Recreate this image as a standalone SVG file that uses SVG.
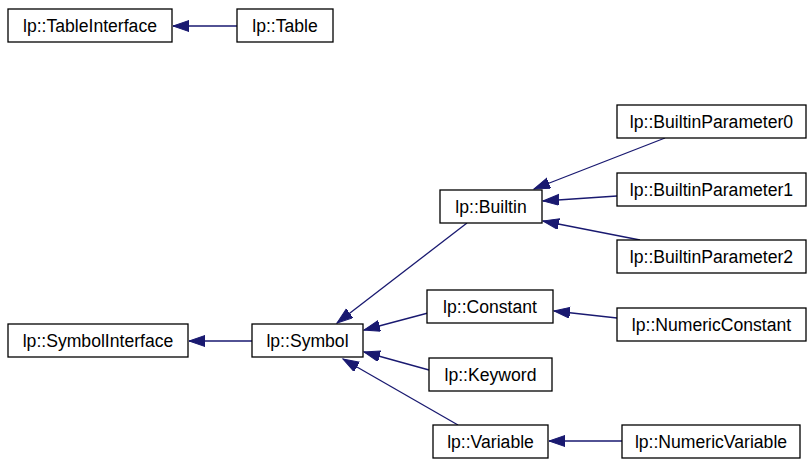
<svg xmlns="http://www.w3.org/2000/svg" width="807" height="460" viewBox="0 0 807 460">
  <style>
    .box { fill: #ffffff; stroke: #000000; stroke-width: 1.3; }
    .lbl { font-family: "Liberation Sans", Arial, sans-serif; font-size: 17.6px; fill: #000000; text-anchor: middle; dominant-baseline: central; }
    .edge { fill: none; stroke: #191970; stroke-width: 1.3; marker-end: url(#arrow); }
  </style>
  <defs>
    <marker id="arrow" markerUnits="userSpaceOnUse" markerWidth="18" markerHeight="12" refX="16" refY="5.5" orient="auto">
      <path d="M0,0 L16,5.5 L0,11 Z" fill="#191970" stroke="#191970" stroke-width="1"/>
    </marker>
  </defs>
  <rect width="807" height="460" fill="#ffffff"/>

  <g id="connectors">
    <path class="edge" d="M237,26 L173,26"/>
    <path class="edge" d="M252,341 L189,341"/>
    <path class="edge" d="M467,223 L337,323"/>
    <path class="edge" d="M428,313 L364,330"/>
    <path class="edge" d="M429,370 L364,352"/>
    <path class="edge" d="M458,425 L343,359"/>
    <path class="edge" d="M665,138 L534,189"/>
    <path class="edge" d="M617,196 L543,201"/>
    <path class="edge" d="M640,240 L543,221"/>
    <path class="edge" d="M617,318 L554,311"/>
    <path class="edge" d="M622,441 L549,441"/>
  </g>

  <g id="TableInterface"><rect class="box" x="8" y="9" width="164" height="33"/><text class="lbl" x="90" y="25.5">lp::TableInterface</text></g>
  <g id="Table"><rect class="box" x="237" y="9" width="96" height="33"/><text class="lbl" x="285" y="25.5">lp::Table</text></g>
  <g id="SymbolInterface"><rect class="box" x="8" y="324" width="180" height="33"/><text class="lbl" x="98" y="340.5">lp::SymbolInterface</text></g>
  <g id="Symbol"><rect class="box" x="252" y="324" width="111" height="33"/><text class="lbl" x="307.5" y="340.5">lp::Symbol</text></g>
  <g id="Builtin"><rect class="box" x="440" y="190" width="102" height="33"/><text class="lbl" x="491" y="206.5">lp::Builtin</text></g>
  <g id="Constant"><rect class="box" x="427" y="290" width="126" height="33"/><text class="lbl" x="490" y="306.5">lp::Constant</text></g>
  <g id="Keyword"><rect class="box" x="429" y="358" width="123" height="33"/><text class="lbl" x="490.5" y="374.5">lp::Keyword</text></g>
  <g id="Variable"><rect class="box" x="433" y="425" width="115" height="33"/><text class="lbl" x="490.5" y="441.5">lp::Variable</text></g>
  <g id="BuiltinParameter0"><rect class="box" x="617" y="105" width="189" height="33"/><text class="lbl" x="711.5" y="121.5">lp::BuiltinParameter0</text></g>
  <g id="BuiltinParameter1"><rect class="box" x="617" y="173" width="189" height="33"/><text class="lbl" x="711.5" y="189.5">lp::BuiltinParameter1</text></g>
  <g id="BuiltinParameter2"><rect class="box" x="617" y="240" width="189" height="33"/><text class="lbl" x="711.5" y="256.5">lp::BuiltinParameter2</text></g>
  <g id="NumericConstant"><rect class="box" x="617" y="308" width="189" height="33"/><text class="lbl" x="711.5" y="324.5">lp::NumericConstant</text></g>
  <g id="NumericVariable"><rect class="box" x="622" y="425" width="178" height="33"/><text class="lbl" x="711" y="441.5">lp::NumericVariable</text></g>
</svg>
